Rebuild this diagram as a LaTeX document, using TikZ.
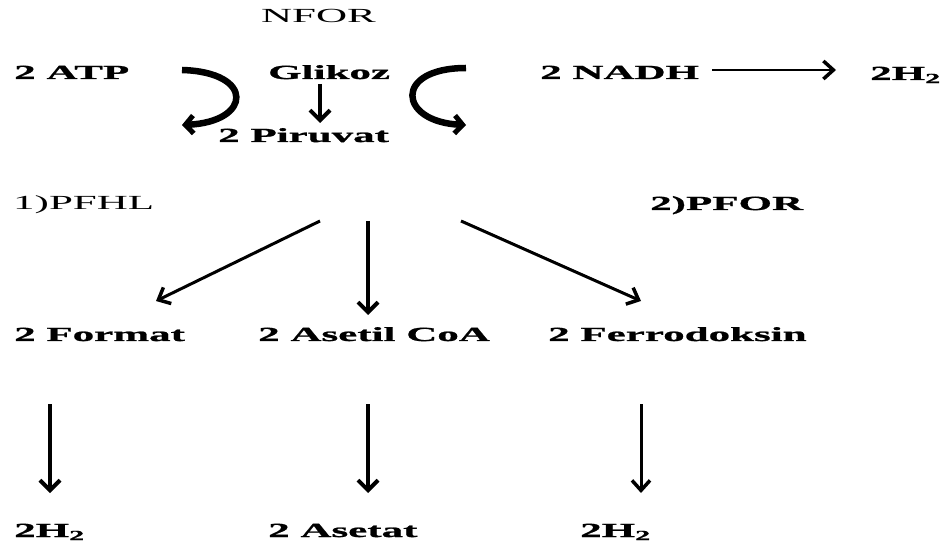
\documentclass[tikz,border=0pt]{standalone}
\usepackage{fontspec}
\usetikzlibrary{arrows.meta}
\newfontfamily\tbfont[FakeStretch=2.15,FakeBold=1.2]{Liberation Serif}
\newfontfamily\trfont[FakeStretch=2.15]{Liberation Serif}
\tikzset{
  lbl/.style={anchor=base west,inner sep=0pt,font=\tbfont\fontsize{20bp}{22bp}\selectfont\bfseries},
  lblr/.style={anchor=base west,inner sep=0pt,font=\trfont\fontsize{20bp}{22bp}\selectfont},
  arr/.style={line width=4.5bp,-{Straight Barb[length=10bp,width=20bp,line width=4bp]}},
  arrthin/.style={line width=3bp,-{Straight Barb[length=10bp,width=18bp,line width=3.5bp]}},
  curv/.style={line width=6.5bp,-{Straight Barb[length=8bp,width=18bp,line width=5bp]}}
}
\begin{document}
\begin{tikzpicture}[x=1bp,y=-1bp]
\useasboundingbox (0,0) rectangle (950,552);
% texts
\node[lblr] (nfor) at (261,23) {NFOR};
\node[lbl] (atp) at (14,79) {2 ATP};
\node[lbl] (glik) at (268,79) {Glikoz};
\node[lbl] (nadh) at (540,79) {2 NADH};
\node[lbl] (htop) at (870,80) {2H\textsubscript{2}};
\node[lbl] (piru) at (218,142) {2 Piruvat};
\node[lblr] (pfhl) at (13,210) {1)PFHL};
\node[lbl] (pfor) at (650,210) {2)PFOR};
\node[lbl] (form) at (14,341) {2 Format};
\node[lbl] (acoa) at (258,341) {2 Asetil CoA};
\node[lbl] (ferr) at (548,341) {2 Ferrodoksin};
\node[lbl] (hl) at (14,537) {2H\textsubscript{2}};
\node[lbl] (ase) at (268,537) {2 Asetat};
\node[lbl] (hr) at (580,537) {2H\textsubscript{2}};
% arrow end points
\coordinate (na1) at (712,70); \coordinate (na2) at (836,70);
\coordinate (g1) at (320,84); \coordinate (g2) at (320,123);
\coordinate (cl1) at (182,70); \coordinate (cl2) at (182,125);
\coordinate (cr1) at (466,68); \coordinate (cr2) at (466,125);
\coordinate (pl1) at (320,221); \coordinate (pl2) at (156,301);
\coordinate (pc1) at (368,221); \coordinate (pc2) at (368,315);
\coordinate (pr1) at (461,221); \coordinate (pr2) at (641,301);
\coordinate (fl1) at (50,404); \coordinate (fl2) at (50,493);
\coordinate (fc1) at (368,404); \coordinate (fc2) at (368,493);
\coordinate (fr1) at (641,404); \coordinate (fr2) at (641,493);
% connectors
\draw[arrthin,line width=2.5bp] (na1) -- (na2);
\draw[arr] (g1) -- (g2);
\draw[curv] (cl1) .. controls (255,72) and (252,122) .. (cl2);
\draw[curv] (cr1) .. controls (393,68) and (398,122) .. (cr2);
\draw[arrthin] (pl1) -- (pl2);
\draw[arr] (pc1) -- (pc2);
\draw[arrthin] (pr1) -- (pr2);
\draw[arr] (fl1) -- (fl2);
\draw[arr] (fc1) -- (fc2);
\draw[arrthin] (fr1) -- (fr2);
\end{tikzpicture}
\end{document}
